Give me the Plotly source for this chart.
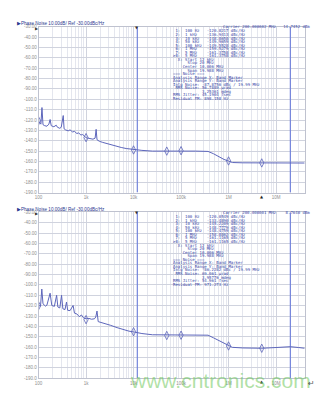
import math
import plotly.graph_objects as go

W, H = 317, 399

# ---------------- data ----------------
freq_top = [100, 105, 112, 118, 124, 135, 150, 165, 175, 185, 210, 235, 250, 280, 300,
            331, 345, 370, 420, 460, 520, 570, 640, 700, 780, 850, 920, 1000, 1100, 1250,
            1400, 1550, 1630, 1700, 1900, 2200, 2600, 3000, 3600, 4500, 5500, 7000, 10000,
            15000, 25000, 50000, 100000, 200000, 370000, 480000, 600000, 800000, 1000000,
            1200000, 2000000, 5000000, 10000000, 20000000, 40000000]
pn_top = [-121.0, -122.5, -124.0, -108.0, -124.5, -125.5, -126.0, -124.0, -119.5, -125.5,
          -126.5, -125.0, -127.0, -128.0, -127.0, -115.7, -128.5, -129.5, -130.5, -129.5,
          -131.5, -131.0, -133.0, -132.5, -134.5, -134.0, -136.0, -137.0, -137.5, -138.0,
          -138.5, -137.5, -129.0, -139.0, -140.5, -141.5, -142.5, -143.5, -144.0, -145.5,
          -146.5, -147.5, -148.5, -149.3, -150.0, -150.3, -150.0, -150.0, -150.3, -152.5,
          -155.0, -158.0, -159.6, -161.0, -161.3, -161.4, -161.4, -161.4, -161.5]

freq_bot = [100, 110, 117, 124, 140, 150, 175, 190, 215, 240, 255, 280, 305, 325, 360,
            388, 410, 460, 534, 570, 640, 720, 800, 880, 1000, 1150, 1300, 1500, 1600,
            1700, 1800, 2200, 2700, 3300, 4500, 6000, 8000, 10000, 15000, 25000, 50000,
            100000, 200000, 370000, 480000, 600000, 800000, 1000000, 1200000, 2000000,
            5000000, 10000000, 20000000, 30000000, 40000000]
pn_bot = [-119.8, -120.5, -104.0, -118.2, -120.5, -119.5, -108.0, -119.8, -120.7, -110.0,
          -121.3, -122.2, -110.0, -123.0, -123.8, -116.5, -124.5, -124.8, -119.8, -127.2,
          -128.0, -130.6, -129.0, -131.7, -132.7, -132.3, -133.1, -132.7, -131.0, -125.2,
          -135.4, -136.5, -138.0, -139.0, -141.2, -143.2, -144.6, -145.3, -146.9, -148.1,
          -148.2, -148.2, -148.3, -148.5, -151.0, -153.2, -156.8, -158.9, -160.2, -160.8,
          -161.1, -160.4, -159.6, -160.4, -161.1]

marker_freqs = [100, 1000, 10000, 50000, 100000, 1000000, 5000000]
marker_top = [-120.8, -137.0, -148.9, -150.0, -149.6, -159.5, -161.4]
marker_bot = [-120.1, -133.5, -145.2, -148.8, -148.5, -158.9, -161.1]

band_edges = [12e3, 20e6]
x_range = [100, 40e6]

y_ticks = list(range(-30, -200, -10))
y_tick_text = [("%.2f" % v) if v > -100 else ("%.1f" % v) for v in y_ticks]
x_tickvals = [1e2, 1e3, 1e4, 1e5, 1e6, 1e7]
x_ticktext = ["100", "1k", "10k", "100k", "1M", "10M"]

table_top = [
    " 1:  100 Hz   -120.8217 dBc/Hz",
    " 2:  1 kHz    -136.9413 dBc/Hz",
    " 3:  10 kHz   -148.8658 dBc/Hz",
    " 4:  50 kHz   -149.9659 dBc/Hz",
    " 5:  100 kHz  -149.5528 dBc/Hz",
    " 6:  1 MHz    -159.5279 dBc/Hz",
    " 7:  5 MHz    -161.3758 dBc/Hz",
    ">8:  5 MHz    -161.3758 dBc/Hz",
    "  X: Start 12 kHz",
    "      Stop 20 MHz",
    "    Center 10.006 MHz",
    "      Span 19.988 MHz",
    "=== Noise ===",
    "Analysis Range X: Band Marker",
    "Analysis Range Y: Band Marker",
    "Intg Noise: -87.8756 dBc / 19.99 MHz",
    " RMS Noise: 56.7889 µrad",
    "            3.25361 mdeg",
    "RMS Jitter: 45.1904 fsec",
    "Residual FM: 898.158 Hz",
]
table_bot = [
    " 1:  100 Hz   -120.0549 dBc/Hz",
    " 2:  1 kHz    -133.4890 dBc/Hz",
    " 3:  10 kHz   -145.2209 dBc/Hz",
    " 4:  50 kHz   -148.7779 dBc/Hz",
    " 5:  100 kHz  -148.4759 dBc/Hz",
    " 6:  1 MHz    -158.8862 dBc/Hz",
    " 7:  5 MHz    -161.1165 dBc/Hz",
    ">8:  5 MHz    -161.1165 dBc/Hz",
    "  X: Start 12 kHz",
    "      Stop 20 MHz",
    "    Center 10.006 MHz",
    "      Span 19.988 MHz",
    "=== Noise ===",
    "Analysis Range X: Band Marker",
    "Analysis Range Y: Band Marker",
    "Intg Noise: -86.2282 dBc / 19.99 MHz",
    " RMS Noise: 69.061 µrad",
    "            3.95776 mdeg",
    "RMS Jitter: 54.961 fsec",
    "Residual FM: 971.273 Hz",
]
carrier_top = "Carrier 200.000002 MHz   14.7452 dBm"
carrier_bot = "Carrier 200.000001 MHz    8.7640 dBm"
header = "▶Phase Noise 10.00dB/ Ref -30.00dBc/Hz"

# ---------------- styling / layout ----------------
TRACE = "#5d66bb"
BAND = "#7384dc"
GRID = "#d0d3de"
GRID_MINOR = "#e4e6ee"
TXT = "#3a48a6"
LBL = "#8f8f8f"

X0, X1 = 35, 304.5
panels = [dict(top=25, bot=193), dict(top=213, bot=381)]

def pxf(px):
    return px / W

def pyf(py):
    return 1 - py / H

fig = go.Figure()
series = [(freq_top, pn_top, marker_top), (freq_bot, pn_bot, marker_bot)]
annotations = []
for i, (p, (fx, fy, my)) in enumerate(zip(panels, series)):
    xa = "x" if i == 0 else "x2"
    ya = "y" if i == 0 else "y2"
    for fe in band_edges:
        fig.add_trace(go.Scatter(x=[fe, fe], y=[-190, -30], mode="lines",
                                 line=dict(color=BAND, width=1.2),
                                 xaxis=xa, yaxis=ya, showlegend=False, hoverinfo="skip"))
    fig.add_trace(go.Scatter(x=fx, y=fy, mode="lines", line=dict(color=TRACE, width=1),
                             xaxis=xa, yaxis=ya, showlegend=False))
    fig.add_trace(go.Scatter(x=marker_freqs, y=my, mode="markers",
                             marker=dict(symbol="diamond-tall-open", size=6,
                                         color=TRACE, line=dict(width=0.8, color=TRACE)),
                             xaxis=xa, yaxis=ya, showlegend=False))
    axsuf = "" if i == 0 else "2"
    fig.update_layout(**{
        "xaxis" + axsuf: dict(
            type="log", range=[math.log10(x_range[0]), math.log10(x_range[1])],
            domain=[pxf(X0), pxf(X1)], anchor=ya,
            tickmode="array", tickvals=x_tickvals, ticktext=x_ticktext,
            tickfont=dict(size=4.5, color=LBL, family="Arial"),
            showgrid=True, gridcolor=GRID, gridwidth=1,
            minor=dict(showgrid=True, gridcolor=GRID_MINOR, dtick="D1", ticks=""),
            ticks="", showline=True, linecolor="#bfc2cf", mirror=True, zeroline=False,
        ),
        "yaxis" + axsuf: dict(
            range=[-190, -30], domain=[pyf(p["bot"]), pyf(p["top"])], anchor=xa,
            tickmode="array", tickvals=y_ticks, ticktext=y_tick_text,
            tickfont=dict(size=4.5, color=LBL, family="Arial"),
            showgrid=True, gridcolor=GRID, gridwidth=1, ticks="",
            showline=True, linecolor="#bfc2cf", mirror=True, zeroline=False,
        ),
    })
    tbl = table_top if i == 0 else table_bot
    car = carrier_top if i == 0 else carrier_bot
    annotations.append(dict(x=pxf(11), y=pyf(p["top"] - 3), xref="paper", yref="paper",
                            text=header, showarrow=False, xanchor="left", yanchor="middle",
                            font=dict(size=4.6, color="#2b3990", family="Arial")))
    annotations.append(dict(x=pxf(33.5), y=pyf(p["top"] + 1.5), xref="paper", yref="paper",
                            text="▶", showarrow=False, xanchor="center", yanchor="middle",
                            font=dict(size=4, color="#333", family="DejaVu Sans")))
    annotations.append(dict(x=math.log10(band_edges[0]), y=pyf(p["top"] + 0.5), xref=xa,
                            yref="paper", text="▼", showarrow=False, xanchor="center",
                            yanchor="middle", font=dict(size=4, color="#333", family="DejaVu Sans")))
    annotations.append(dict(x=math.log10(marker_freqs[-1]), y=pyf(p["bot"] + 3.5), xref=xa,
                            yref="paper", text="▲", showarrow=False, xanchor="center",
                            yanchor="middle", font=dict(size=4, color="#222", family="DejaVu Sans")))
    annotations.append(dict(x=pxf(312), y=pyf(p["top"]), xref="paper", yref="paper",
                            text=car.replace(" ", "\u00a0"), showarrow=False,
                            xanchor="right", yanchor="middle",
                            font=dict(size=4.0, color=TXT, family="DejaVu Sans Mono")))
    for k, line in enumerate(tbl):
        annotations.append(dict(x=pxf(169), y=pyf(p["top"] + 4.3 + 3.6 * k),
                                xref="paper", yref="paper",
                                text=line.replace(" ", "\u00a0"), showarrow=False,
                                xanchor="left", yanchor="middle",
                                font=dict(size=4.0, color=TXT, family="DejaVu Sans Mono")))

annotations.append(dict(x=pxf(219), y=pyf(383), xref="paper", yref="paper",
                        text="www.cntronics.com", showarrow=False, xanchor="center",
                        yanchor="middle",
                        font=dict(size=21, color="rgba(110,200,90,0.55)", family="Arial")))
annotations.append(dict(x=pxf(311), y=pyf(386), xref="paper", yref="paper",
                        text="↵", showarrow=False, xanchor="center", yanchor="middle",
                        font=dict(size=8, color="#555", family="DejaVu Sans")))

fig.update_layout(width=W, height=H, margin=dict(l=0, r=0, t=0, b=0),
                  paper_bgcolor="white", plot_bgcolor="white",
                  annotations=annotations, showlegend=False)

fig.write_html("out.html")
